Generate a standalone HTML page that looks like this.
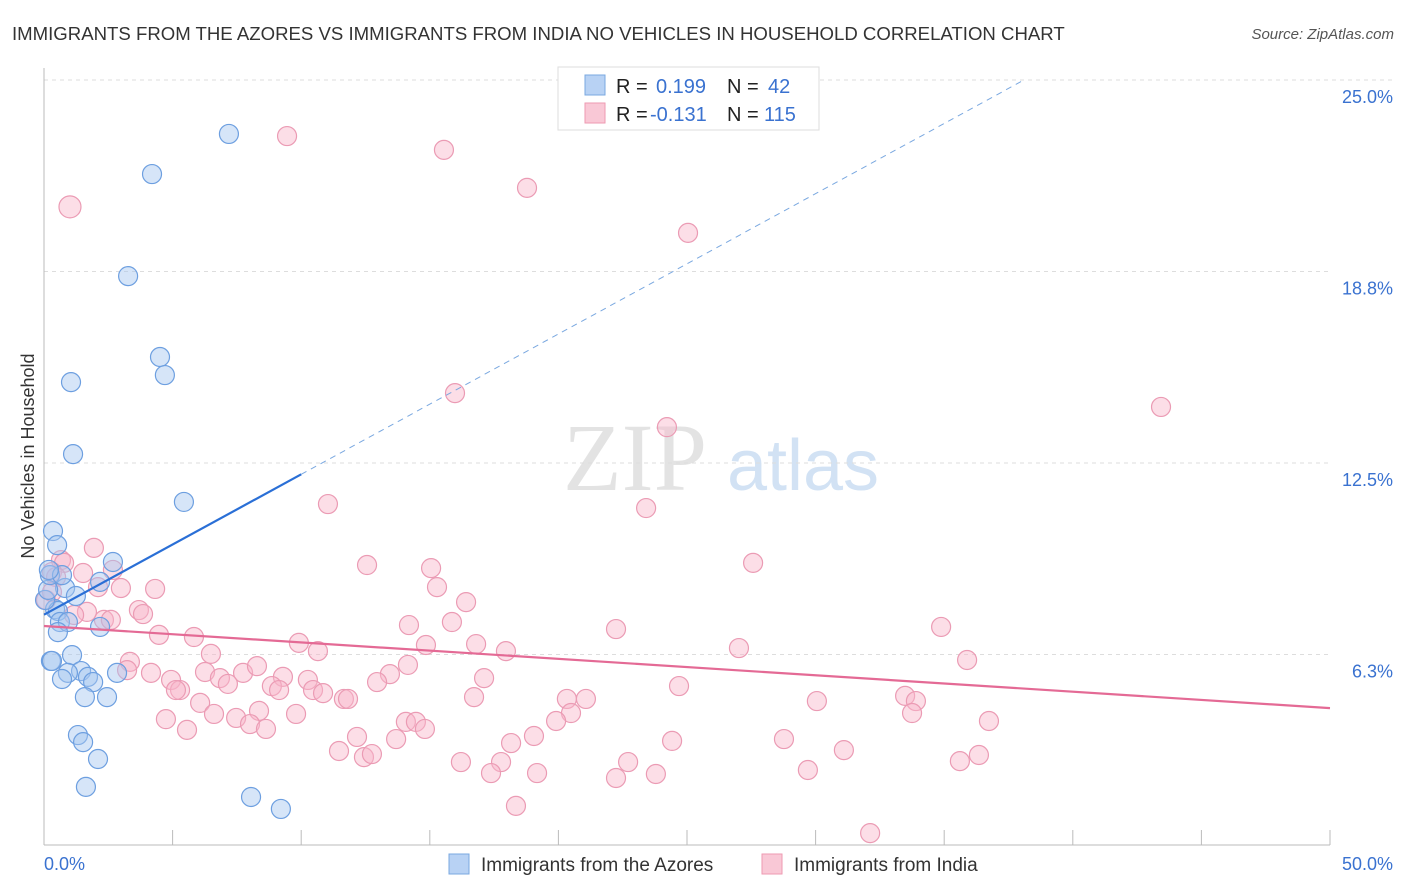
<!DOCTYPE html>
<html><head><meta charset="utf-8">
<style>
body{margin:0;background:#fff;font-family:"Liberation Sans",sans-serif;}
#wrap{position:relative;width:1406px;height:892px;overflow:hidden;}
</style></head>
<body>
<div id="wrap">
<svg id="svg" width="1406" height="892" xmlns="http://www.w3.org/2000/svg">
<text x="12" y="40" font-size="18.6" fill="#333">IMMIGRANTS FROM THE AZORES VS IMMIGRANTS FROM INDIA NO VEHICLES IN HOUSEHOLD CORRELATION CHART</text>
<text x="1394" y="39" font-size="15" fill="#555" font-style="italic" text-anchor="end">Source: ZipAtlas.com</text>
<text x="34" y="456" font-size="18" fill="#333" text-anchor="middle" transform="rotate(-90 34 456)">No Vehicles in Household</text>
<g>
<text x="635" y="490" font-size="96" fill="#ddd" font-family="Liberation Serif" text-anchor="middle" opacity="0.8">ZIP</text>
<text x="803" y="490" font-size="72" fill="#c8dcf2" text-anchor="middle" opacity="0.8">atlas</text>
</g>
<g id="grid"></g>
<g id="axes"></g>
<g id="pts"></g>
<g id="trend"></g>
<g>
<rect x="558" y="67" width="261" height="63" fill="#fff" stroke="#ddd"/>
<rect x="585" y="75" width="20" height="20" fill="#b8d2f4" stroke="#7aa8e0"/>
<rect x="585" y="103" width="20" height="20" fill="#f9c8d6" stroke="#ee9ab2"/>
<text x="616" y="93" font-size="20" fill="#222">R = </text><text x="656" y="93" font-size="20" fill="#3a72d0">0.199</text>
<text x="727" y="93" font-size="20" fill="#222">N = </text><text x="768" y="93" font-size="20" fill="#3a72d0">42</text>
<text x="616" y="121" font-size="20" fill="#222">R = </text><text x="650" y="121" font-size="20" fill="#3a72d0">-0.131</text>
<text x="727" y="121" font-size="20" fill="#222">N = </text><text x="764" y="121" font-size="20" fill="#3a72d0">115</text>
</g>
<g>
<rect x="449" y="854" width="20" height="20" fill="#b8d2f4" stroke="#7aa8e0"/>
<text x="481" y="871" font-size="19" fill="#333">Immigrants from the Azores</text>
<rect x="762" y="854" width="20" height="20" fill="#f9c8d6" stroke="#ee9ab2"/>
<text x="794" y="871" font-size="19" fill="#333">Immigrants from India</text>
</g>
</svg>
</div>
<script>
const yTicks=[25,18.75,12.5,6.25];
const yTickLabels=["25.0%","18.8%","12.5%","6.3%"];
const xTickLabels=["0.0%","50.0%"];
const azoresX=[7.19,4.20,3.27,4.51,4.70,1.05,1.13,5.44,0.35,0.51,2.68,2.18,0.82,1.24,0.43,0.54,0.62,0.93,2.18,0.54,1.09,0.27,0.31,1.44,0.93,0.70,1.71,1.91,2.84,1.59,2.45,1.32,1.52,2.10,1.63,8.05,9.21,0.04,0.16,0.23,0.70,0.19];
const azoresY=[23.24,21.93,18.60,15.96,15.37,15.14,12.79,11.23,10.28,9.82,9.27,8.62,8.42,8.16,7.73,7.67,7.31,7.31,7.15,6.98,6.23,6.04,6.04,5.71,5.65,5.45,5.52,5.35,5.65,4.86,4.86,3.62,3.39,2.84,1.93,1.60,1.21,8.03,8.36,8.84,8.84,9.01];
const indiaX=[9.45,15.55,18.78,25.04,1.01,15.98,43.43,24.22,11.04,23.41,1.94,0.66,0.78,12.56,15.05,27.57,1.52,2.68,0.31,0.47,4.32,2.99,2.10,15.28,16.41,3.69,3.85,2.33,2.60,1.67,14.19,15.86,22.24,34.88,4.47,5.83,9.91,14.85,16.80,10.65,17.96,6.49,27.02,35.89,3.34,3.23,6.26,7.74,8.28,4.16,9.29,14.15,13.45,4.94,6.84,7.15,8.86,10.26,12.95,17.11,5.29,5.13,9.14,10.46,10.85,11.66,11.82,16.72,20.33,21.07,24.69,30.05,33.48,33.90,6.07,6.61,4.74,8.36,9.80,7.47,20.49,33.75,36.74,14.07,14.46,14.81,5.56,8.01,8.63,19.91,12.17,13.69,19.05,18.16,24.42,28.77,11.47,12.44,12.75,31.10,16.21,17.77,22.71,36.35,35.61,19.17,17.38,22.24,23.79,29.70,18.35,32.12,0.08,0.31,1.17];
const indiaY=[23.17,22.72,21.48,20.01,20.86,14.78,14.33,13.67,11.16,11.03,9.73,9.33,9.24,9.17,9.07,9.24,8.91,9.01,8.94,8.78,8.39,8.42,8.45,8.45,7.96,7.70,7.57,7.38,7.38,7.64,7.21,7.31,7.08,7.15,6.89,6.82,6.63,6.56,6.59,6.36,6.36,6.27,6.46,6.07,6.01,5.74,5.68,5.65,5.87,5.65,5.52,5.91,5.61,5.42,5.48,5.29,5.22,5.42,5.35,5.48,5.09,5.09,5.09,5.09,4.99,4.80,4.80,4.86,4.80,4.80,5.22,4.73,4.90,4.73,4.67,4.31,4.14,4.41,4.31,4.18,4.34,4.34,4.08,4.05,4.05,3.82,3.79,3.98,3.82,4.08,3.56,3.49,3.59,3.36,3.43,3.49,3.10,2.90,3.00,3.13,2.74,2.74,2.74,2.97,2.77,2.38,2.38,2.22,2.35,2.48,1.31,0.42,8.03,8.29,7.54];
const azoresTrend=[7.55,0.458];
const indiaTrend=[7.18,-0.0536];
const NS="http://www.w3.org/2000/svg";
const X=v=>44+v*25.72, Y=v=>846-v*30.64;
function mk(t,a,p){const e=document.createElementNS(NS,t);for(const k in a)e.setAttribute(k,a[k]);p.appendChild(e);return e;}
const grid=document.getElementById('grid'),axes=document.getElementById('axes'),pts=document.getElementById('pts'),tr=document.getElementById('trend');
yTicks.forEach((t,i)=>{
 const l=mk('line',{x1:44,x2:i==0?1395:1330,y1:Y(t),y2:Y(t),stroke:'#ddd','stroke-dasharray':'4,4'},grid);
 
 
 const tx=mk('text',{x:1393,y:Y(t)+23,'font-size':18,fill:'#3a72d0','text-anchor':'end'},axes);
 tx.textContent=yTickLabels[i];
 
 
});
const ax=mk('line',{x1:44,x2:1330,y1:845,y2:845,stroke:'#bbb'},axes);


const ay=mk('line',{x1:44,x2:44,y1:68,y2:845,stroke:'#bbb'},axes);


for(let i=0;i<=10;i++){const t=mk('line',{x1:X(i*5),x2:X(i*5),y1:830,y2:845,stroke:'#bbb'},axes);
 
 }
[[0,'start',44],[50,'end',1393]].forEach((d,i)=>{const t=mk('text',{x:d[2],y:870,'font-size':18,fill:'#3a72d0','text-anchor':d[1]},axes);t.textContent=xTickLabels[i];
 
 });
indiaX.forEach((x,i)=>{const c=mk('circle',{cx:X(x),cy:Y(indiaY[i]),r:i==4?11:9.5,fill:'rgba(248,182,202,0.45)',stroke:'#eb9bb4','stroke-width':1.2},pts);
 
 });
azoresX.forEach((x,i)=>{const c=mk('circle',{cx:X(x),cy:Y(azoresY[i]),r:9.5,fill:'rgba(164,198,240,0.45)',stroke:'#6d9fe0','stroke-width':1.2},pts);
 
 });
const bEnd=(25-azoresTrend[0])/azoresTrend[1];
let l1=mk('line',{x1:X(0),y1:Y(azoresTrend[0]),x2:X(10),y2:Y(azoresTrend[0]+10*azoresTrend[1]),stroke:'#2a6fd6','stroke-width':2.2},tr);


let l2=mk('line',{x1:X(10),y1:Y(azoresTrend[0]+10*azoresTrend[1]),x2:X(bEnd),y2:Y(25),stroke:'#7aa8e0','stroke-width':1,'stroke-dasharray':'6,5'},tr);


let l3=mk('line',{x1:X(0),y1:Y(indiaTrend[0]),x2:X(50),y2:Y(indiaTrend[0]+50*indiaTrend[1]),stroke:'#e46a95','stroke-width':2.2},tr);


</script>
</body></html>
